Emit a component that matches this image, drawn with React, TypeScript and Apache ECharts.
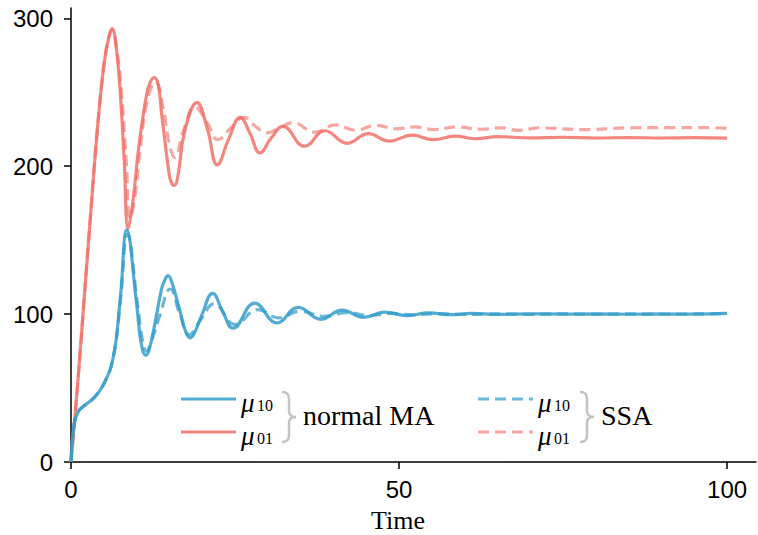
import React, { useEffect, useRef } from "react";
import * as echarts from "echarts";

// Moment trajectories: normal moment approximation (MA) vs. SSA average
const maTime10 = [0, 0.5, 1.1, 2, 3.4, 4.9, 6.4, 7.5, 8.5, 10.0, 10.7, 11.4, 12.1, 13.8, 14.2, 14.8, 15.4, 16.5, 17.5, 18.2, 18.9, 19.9, 21.6, 23.1, 24.7, 28.0, 31.4, 34.6, 38.1, 41.3, 44.6, 47.8, 51.2, 54.5, 58, 61, 65, 70, 75, 80, 85, 90, 95, 100];
const maMu10 = [0, 26, 34, 38, 43, 52, 70, 110, 157, 107, 80, 72, 79, 117, 122, 126, 121, 104, 88, 84, 88, 99, 114, 102, 90.5, 107.5, 94, 104.5, 96.5, 102.7, 97.8, 101.3, 99, 100.8, 99.6, 100.5, 99.8, 100.2, 100, 100.1, 99.9, 100.1, 100, 100.5];

const maTime01 = [0, 1, 2, 3, 4, 5, 5.7, 6.25, 6.9, 7.5, 8.1, 8.7, 9.4, 10.3, 11.5, 12.1, 12.7, 13.3, 13.8, 14.8, 15.2, 15.7, 16.2, 17.4, 19.2, 20.8, 22.3, 24, 25.8, 27.3, 28.8, 30.5, 32.3, 35.6, 38.7, 42.1, 45.3, 48.5, 52, 55.2, 58.5, 61.8, 65, 70, 75, 80, 85, 90, 95, 100];
const maMu01 = [0, 52, 110, 168, 224, 268, 286, 293, 280, 250, 205, 158, 175, 212, 248, 257, 260, 255, 236, 200, 190, 187, 191, 225, 243, 225, 201, 218, 233, 222, 209, 219, 227, 213.5, 224, 215.5, 222, 217, 221, 218, 220.3, 218.6, 220, 219.2, 219.6, 219.1, 219.4, 219.1, 219.3, 219];

const ssaTime10 = [0, 0.5, 1.1, 2, 3.4, 4.9, 6.4, 7.5, 8.6, 10.1, 10.9, 11.5, 12.2, 13.6, 15.1, 16.6, 18.0, 19.9, 21.8, 25.0, 28.5, 31.6, 35, 38.5, 42, 45.5, 49, 52, 56, 60, 65, 70, 75, 80, 85, 90, 95, 100];
const ssaMu10 = [0, 26, 34, 38, 43, 52, 70, 108, 154, 108, 82, 75, 81, 100, 117, 100, 86, 97, 107, 93, 103, 97.5, 102, 98.5, 101, 99, 100.5, 99.5, 100.3, 99.8, 100.2, 99.8, 100.2, 99.9, 100.2, 99.9, 100.1, 100.3];

const ssaTime01 = [0, 1, 2, 3, 4, 5, 5.7, 6.3, 7.0, 7.7, 8.4, 9.0, 9.7, 10.5, 11.7, 12.9, 14.1, 15.0, 15.8, 17.2, 18.9, 20.7, 22.4, 24.4, 26.4, 28.1, 29.8, 31.8, 33.8, 37.2, 40.3, 43.4, 46.5, 49.5, 52.4, 55.4, 58.8, 62.5, 65.6, 68, 71.5, 78, 84.5, 91, 97.5, 100];
const ssaMu01 = [0, 52, 110, 168, 224, 268, 286, 292, 278, 250, 205, 165, 178, 210, 246, 257, 238, 215, 206, 225, 240, 230, 218, 226, 233, 227, 222.5, 226, 229.5, 223, 228, 224.3, 227.7, 225.3, 226.6, 224.8, 226.6, 225, 226, 224.3, 225.9, 224.8, 225.9, 226.1, 226.1, 225.5];

const xTicks = [0, 50, 100];
const yTicks = [0, 100, 200, 300];

const BLUE = "rgba(52,156,202,0.85)";
const RED = "rgba(240,108,100,0.82)";
const BLUE_D = "rgba(52,156,202,0.72)";
const RED_D = "rgba(240,108,100,0.6)";
const DASH = [11, 6];

const zip = (xs: number[], ys: number[]) => xs.map((x, i) => [x, ys[i]]);

const BRACE = "M0 0 C5 0 7 2 7 7 L7 19 C7 23 9 25 14 25 C9 25 7 27 7 31 L7 43 C7 48 5 50 0 50";
echarts.graphic.registerShape("brace", echarts.graphic.extendPath(BRACE, {}));

const SERIF = "Liberation Serif";
const SANS = "Liberation Sans";

function legendRow(x0: number, y: number, color: string, dashed: boolean, sub: string) {
  return [
    {
      type: "line",
      shape: { x1: x0, y1: y, x2: x0 + 55, y2: y },
      style: { stroke: color, lineWidth: 3, lineDash: dashed ? DASH : null },
    },
    {
      type: "text",
      x: x0 + 60,
      y: y + 4,
      style: { text: "μ", font: `italic 27px ${SERIF}`, fill: "#000", verticalAlign: "middle" },
    },
    {
      type: "text",
      x: x0 + 76,
      y: y + 6,
      style: { text: sub, font: `16px ${SERIF}`, fill: "#000", verticalAlign: "middle" },
    },
  ];
}

export default function App() {
  const ref = useRef<HTMLDivElement>(null);

  useEffect(() => {
    if (!ref.current) return;
    const chart = echarts.init(ref.current, undefined, { renderer: "svg" });
    const line = (name: string, data: number[][], color: string, dashed: boolean, z: number) => ({
      name,
      type: "line",
      data,
      smooth: 0.45,
      showSymbol: false,
      z,
      lineStyle: { color, width: 3.2, type: dashed ? DASH : "solid", cap: "butt" },
    });
    chart.setOption({
      animation: false,
      backgroundColor: "#fff",
      grid: { left: 71, right: 2, top: 8, bottom: 73, containLabel: false },
      xAxis: {
        type: "value",
        min: 0,
        max: 104.4,
        interval: 50,
        axisLine: { show: true, lineStyle: { color: "#000", width: 1.5 } },
        axisTick: { show: true, length: 7, lineStyle: { color: "#000", width: 1.5 }, customValues: xTicks },
        axisLabel: { color: "#000", fontFamily: SANS, fontSize: 24, margin: 15, customValues: xTicks },
        splitLine: { show: false },
      },
      yAxis: {
        type: "value",
        min: 0,
        max: 307,
        interval: 100,
        axisLine: { show: true, lineStyle: { color: "#000", width: 1.5 } },
        axisTick: { show: true, length: 7, lineStyle: { color: "#000", width: 1.5 }, customValues: yTicks },
        axisLabel: { color: "#000", fontFamily: SANS, fontSize: 24, margin: 18, customValues: yTicks },
        splitLine: { show: false },
      },
      series: [
        line("μ01 normal MA", zip(maTime01, maMu01), RED, false, 2),
        line("μ01 SSA", zip(ssaTime01, ssaMu01), RED_D, true, 3),
        line("μ10 normal MA", zip(maTime10, maMu10), BLUE, false, 4),
        line("μ10 SSA", zip(ssaTime10, ssaMu10), BLUE_D, true, 5),
      ],
      graphic: [
        ...legendRow(181, 399, BLUE, false, "10"),
        ...legendRow(181, 432, RED, false, "01"),
        { type: "brace", x: 282, y: 392, style: { stroke: "#c4c4c4", lineWidth: 2.5, fill: "none" } },
        { type: "text", x: 303, y: 415, style: { text: "normal MA", font: `28px ${SERIF}`, fill: "#000", verticalAlign: "middle" } },
        ...legendRow(478, 399, BLUE_D, true, "10"),
        ...legendRow(478, 432, RED_D, true, "01"),
        { type: "brace", x: 580, y: 392, style: { stroke: "#c4c4c4", lineWidth: 2.5, fill: "none" } },
        { type: "text", x: 601, y: 415, style: { text: "SSA", font: `28px ${SERIF}`, fill: "#000", verticalAlign: "middle" } },
        { type: "text", x: 398, y: 520, style: { text: "Time", font: `26px ${SERIF}`, fill: "#000", align: "center", verticalAlign: "middle" } },
      ],
    });
    return () => chart.dispose();
  }, []);

  return (
    <div
      ref={ref}
      style={{ position: "absolute", left: 0, top: 0, width: 758, height: 535 }}
    />
  );
}
